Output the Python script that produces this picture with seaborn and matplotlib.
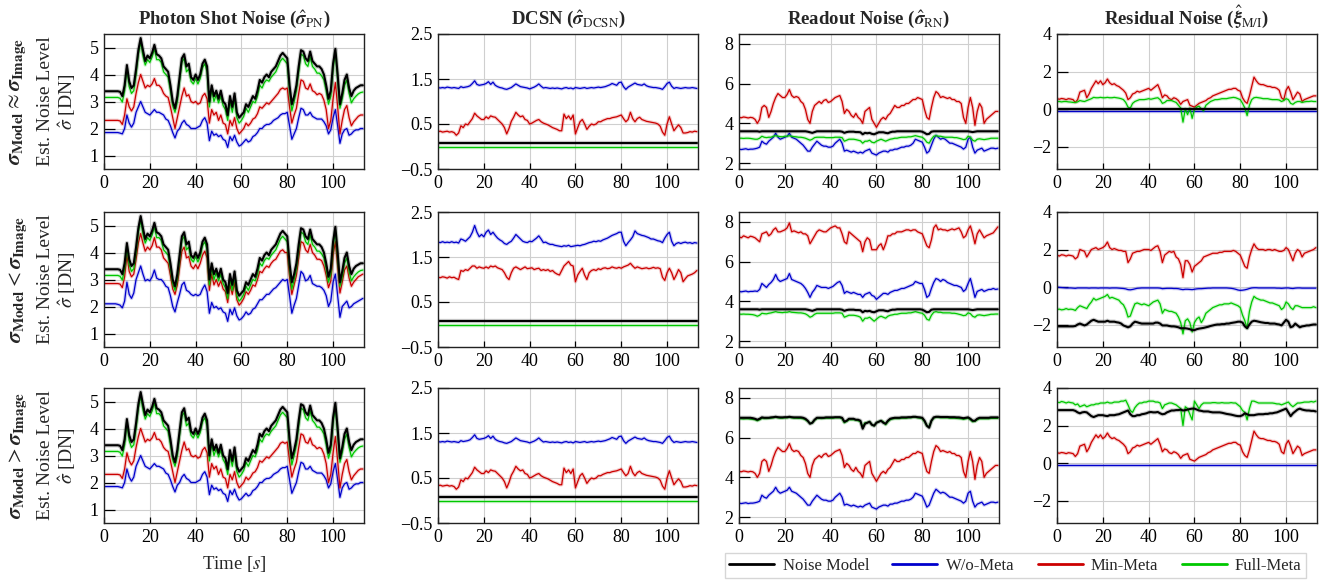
import numpy as np
import seaborn as sns
import matplotlib
matplotlib.use('Agg')
import matplotlib.pyplot as plt
from matplotlib.lines import Line2D

# Time axis [s]
time = np.arange(0, 114)

# ---- Photon shot noise ----
pn_model = [3.38, 3.38, 3.38, 3.38, 3.38, 3.38, 3.38, 3.36, 3.2, 3.6,
            4.35, 3.75, 3.5, 3.6, 4.2, 4.9, 5.35, 4.9, 4.5, 4.7,
            4.6, 4.8, 5.1, 4.75, 4.7, 4.6, 4.3, 4.2, 4.1, 3.6,
            3.0, 2.75, 3.2, 3.9, 4.6, 4.75, 4.3, 4.4, 3.9, 3.8,
            4.0, 3.8, 4.0, 4.4, 4.55, 4.3, 3.0, 3.6, 3.2, 3.4,
            3.1, 3.4, 3.0, 2.9, 2.5, 3.2, 2.8, 3.3, 2.6, 2.4,
            2.5, 2.6, 2.9, 2.8, 3.0, 3.2, 3.1, 3.4, 3.8, 3.7,
            3.9, 4.0, 3.9, 4.1, 4.2, 4.3, 4.5, 4.7, 4.8, 4.7,
            4.6, 3.6, 2.9, 3.2, 3.6, 4.3, 4.9, 4.85, 4.6, 4.5,
            4.85, 4.5, 4.4, 4.3, 4.3, 4.2, 4.0, 3.6, 3.1, 3.4,
            4.4, 4.95, 4.0, 2.9, 3.3, 3.8, 4.0, 3.5, 3.2, 3.4,
            3.5, 3.55, 3.6, 3.6]
pn_full = [3.15, 3.15, 3.15, 3.15, 3.15, 3.15, 3.15, 3.12, 2.98, 3.4,
           4.2, 3.55, 3.3, 3.4, 4.0, 4.75, 5.2, 4.7, 4.35, 4.55,
           4.45, 4.65, 4.95, 4.55, 4.55, 4.45, 4.1, 4.0, 3.9, 3.4,
           2.85, 2.6, 3.0, 3.75, 4.45, 4.6, 4.1, 4.2, 3.75, 3.65,
           3.85, 3.65, 3.85, 4.25, 4.4, 4.1, 2.8, 3.45, 3.0, 3.25,
           2.95, 3.2, 2.85, 2.7, 2.3, 3.0, 2.6, 3.1, 2.4, 2.2,
           2.3, 2.45, 2.75, 2.6, 2.8, 3.0, 2.95, 3.2, 3.6, 3.5,
           3.7, 3.8, 3.75, 3.9, 4.0, 4.1, 4.3, 4.5, 4.6, 4.5,
           4.4, 3.4, 2.65, 3.0, 3.4, 4.1, 4.75, 4.7, 4.4, 4.3,
           4.65, 4.3, 4.2, 4.05, 4.05, 3.95, 3.8, 3.4, 2.9, 3.2,
           4.2, 4.8, 3.8, 2.75, 3.1, 3.6, 3.8, 3.3, 2.95, 3.1,
           3.2, 3.28, 3.33, 3.35]
pn_min_eq = [2.3, 2.3, 2.3, 2.3, 2.3, 2.3, 2.3, 2.28, 2.15, 2.5,
             3.1, 2.8, 2.65, 2.8, 3.3, 3.7, 4.0, 3.75, 3.5, 3.6,
             3.55, 3.65, 3.85, 3.6, 3.6, 3.5, 3.3, 3.2, 3.15, 2.8,
             2.4, 2.0, 2.4, 2.8, 3.2, 3.5, 3.2, 3.25, 3.0, 2.95,
             3.0, 2.9, 2.95, 3.2, 3.3, 3.1, 2.2, 2.7, 2.5, 2.6,
             2.3, 2.5, 2.2, 2.15, 1.8, 2.3, 2.1, 2.4, 2.0, 1.8,
             1.9, 2.0, 2.2, 2.1, 2.2, 2.35, 2.4, 2.55, 2.8, 2.75,
             2.85, 2.95, 2.9, 3.0, 3.1, 3.2, 3.3, 3.45, 3.5, 3.45,
             3.5, 2.8, 2.2, 2.5, 2.75, 3.3, 3.8, 3.75, 3.5, 3.45,
             3.65, 3.4, 3.35, 3.25, 3.3, 3.25, 3.05, 2.7, 2.0, 2.3,
             3.1, 3.7, 2.8, 1.8, 2.3, 2.7, 2.85, 2.4, 2.1, 2.25,
             2.35, 2.45, 2.5, 2.5]
pn_wo_eq = [1.85, 1.85, 1.85, 1.85, 1.85, 1.85, 1.85, 1.83, 1.8, 2.0,
            2.5, 2.2, 2.05, 2.2, 2.6, 2.8, 3.0, 2.8, 2.6, 2.55,
            2.5, 2.6, 2.7, 2.6, 2.6, 2.55, 2.5, 2.35, 2.3, 2.1,
            1.85, 1.65, 1.9, 2.0, 2.2, 2.3, 2.15, 2.1, 2.0, 2.0,
            2.0, 2.05, 2.1, 2.3, 2.4, 2.2, 1.55, 1.9, 1.75, 1.8,
            1.7, 1.75, 1.6, 1.55, 1.3, 1.7, 1.55, 1.75, 1.5, 1.35,
            1.4, 1.5, 1.6, 1.5, 1.55, 1.7, 1.75, 1.85, 2.0, 2.0,
            2.1, 2.15, 2.15, 2.2, 2.3, 2.35, 2.4, 2.5, 2.55, 2.55,
            2.6, 2.1, 1.6, 1.8, 2.0, 2.4, 2.75, 2.7, 2.5, 2.5,
            2.6, 2.45, 2.4, 2.35, 2.35, 2.35, 2.25, 2.1, 1.8, 1.95,
            2.4, 2.7, 2.1, 1.45, 1.8, 1.95, 2.0, 1.75, 1.8, 1.9,
            1.95, 1.95, 2.0, 2.0]
pn_min_lt = [2.85, 2.85, 2.85, 2.85, 2.85, 2.85, 2.85, 2.83, 2.7, 3.1,
             3.9, 3.3, 3.1, 3.2, 3.75, 4.35, 4.7, 4.35, 4.05, 4.2,
             4.1, 4.25, 4.55, 4.2, 4.2, 4.1, 3.8, 3.7, 3.6, 3.15,
             2.65, 2.45, 2.8, 3.45, 4.05, 4.2, 3.8, 3.85, 3.5, 3.4,
             3.55, 3.4, 3.6, 3.9, 4.05, 3.8, 2.6, 3.2, 2.8, 3.0,
             2.75, 2.95, 2.65, 2.55, 2.15, 2.8, 2.45, 2.9, 2.25, 2.05,
             2.15, 2.3, 2.55, 2.45, 2.6, 2.8, 2.75, 3.0, 3.3, 3.25,
             3.4, 3.5, 3.45, 3.6, 3.7, 3.75, 3.9, 4.05, 4.1, 4.0,
             4.0, 3.1, 2.45, 2.8, 3.15, 3.8, 4.4, 4.35, 4.1, 4.0,
             4.3, 4.0, 3.9, 3.75, 3.75, 3.7, 3.5, 3.15, 2.7, 2.95,
             3.9, 4.4, 3.5, 2.5, 2.9, 3.35, 3.5, 3.05, 2.75, 2.9,
             3.0, 3.1, 3.15, 3.2]
pn_wo_lt = [2.1, 2.1, 2.1, 2.1, 2.1, 2.1, 2.08, 2.05, 1.95, 2.2,
            2.9, 2.45, 2.3, 2.5, 3.0, 3.25, 3.5, 3.2, 2.95, 3.0,
            2.95, 3.1, 3.35, 3.05, 3.0, 3.0, 2.9, 2.75, 2.7, 2.4,
            2.0, 1.8, 2.15, 2.45, 2.8, 2.9, 2.6, 2.55, 2.45, 2.4,
            2.45, 2.4, 2.45, 2.65, 2.8, 2.55, 1.75, 2.15, 1.95, 2.0,
            1.9, 1.95, 1.8, 1.75, 1.45, 1.9, 1.7, 1.95, 1.65, 1.5,
            1.55, 1.65, 1.8, 1.7, 1.75, 1.9, 1.95, 2.1, 2.25, 2.25,
            2.35, 2.45, 2.45, 2.55, 2.65, 2.7, 2.8, 2.9, 3.0, 2.95,
            3.0, 2.4, 1.75, 2.05, 2.3, 2.8, 3.3, 3.2, 2.95, 3.0,
            3.15, 2.85, 2.8, 2.75, 2.75, 2.7, 2.6, 2.4, 2.0, 2.2,
            2.9, 3.2, 2.4, 1.6, 2.0, 2.1, 2.2, 1.95, 2.0, 2.1,
            2.15, 2.2, 2.25, 2.3]

# ---- DCSN ----
dcsn_model = 0.07
dcsn_full = 0.0
dcsn_wo_eq = [1.31, 1.3, 1.31, 1.3, 1.32, 1.31, 1.3, 1.31, 1.3, 1.29,
              1.33, 1.31, 1.32, 1.33, 1.35, 1.4, 1.46, 1.38, 1.36, 1.37,
              1.38, 1.4, 1.44, 1.38, 1.43, 1.36, 1.33, 1.31, 1.3, 1.28,
              1.27, 1.29, 1.31, 1.35, 1.39, 1.36, 1.33, 1.32, 1.31, 1.3,
              1.28, 1.3, 1.32, 1.35, 1.39, 1.34, 1.3, 1.31, 1.3, 1.29,
              1.3, 1.29, 1.3, 1.29, 1.28, 1.3, 1.31, 1.29, 1.3, 1.28,
              1.31, 1.3, 1.29, 1.3, 1.31, 1.29, 1.3, 1.31, 1.3, 1.31,
              1.32, 1.31, 1.32, 1.33, 1.35, 1.37, 1.4, 1.38, 1.36, 1.42,
              1.43, 1.33, 1.27, 1.32, 1.35, 1.38, 1.41, 1.38, 1.37, 1.36,
              1.39, 1.35, 1.33, 1.32, 1.31, 1.31, 1.3, 1.29, 1.27, 1.33,
              1.4, 1.43, 1.34, 1.29, 1.31, 1.3, 1.29, 1.3, 1.31, 1.3,
              1.3, 1.31, 1.3, 1.29]
dcsn_min_eq = [0.33, 0.34, 0.32, 0.33, 0.34, 0.32, 0.33, 0.31, 0.25, 0.3,
               0.46, 0.42, 0.5, 0.48, 0.55, 0.62, 0.74, 0.68, 0.64, 0.6,
               0.6, 0.66, 0.62, 0.68, 0.66, 0.65, 0.6, 0.55, 0.5, 0.42,
               0.28, 0.4, 0.56, 0.65, 0.76, 0.7, 0.66, 0.68, 0.6, 0.58,
               0.5, 0.52, 0.55, 0.58, 0.6, 0.55, 0.52, 0.5, 0.48, 0.45,
               0.42, 0.4, 0.38, 0.35, 0.35, 0.72, 0.62, 0.68, 0.6, 0.7,
               0.28, 0.42, 0.55, 0.6, 0.5, 0.38, 0.45, 0.5, 0.48, 0.5,
               0.55, 0.55, 0.58, 0.6, 0.62, 0.62, 0.64, 0.65, 0.66, 0.68,
               0.7, 0.62, 0.55, 0.6, 0.76, 0.62, 0.55, 0.62, 0.65, 0.6,
               0.58, 0.56, 0.55, 0.54, 0.53, 0.52, 0.5, 0.45, 0.32, 0.25,
               0.5, 0.66, 0.5, 0.35, 0.42, 0.48, 0.42, 0.3, 0.3, 0.31,
               0.33, 0.32, 0.34, 0.33]
dcsn_wo_lt = [1.83, 1.82, 1.84, 1.82, 1.83, 1.82, 1.84, 1.82, 1.83, 1.81,
              1.9, 1.88, 1.85, 1.9, 1.95, 2.05, 2.2, 2.05, 1.95, 2.0,
              1.95, 2.05, 2.1, 2.0, 2.05, 1.98, 1.92, 1.88, 1.85, 1.8,
              1.78, 1.82, 1.85, 1.92, 2.0, 1.95, 1.9, 1.85, 1.83, 1.82,
              1.85, 1.84, 1.88, 1.92, 1.97, 1.9, 1.82, 1.83, 1.8, 1.78,
              1.78, 1.76, 1.75, 1.74, 1.73, 1.75, 1.74, 1.76, 1.73, 1.74,
              1.75, 1.76, 1.75, 1.77, 1.78, 1.8, 1.82, 1.83, 1.85, 1.84,
              1.86, 1.85, 1.88, 1.9, 1.92, 1.95, 1.98, 2.0, 2.02, 2.05,
              2.05, 1.85, 1.75, 1.82, 1.88, 1.95, 2.08, 2.02, 2.0, 1.98,
              1.97, 1.95, 1.93, 1.9, 1.9, 1.88, 1.86, 1.85, 1.82, 1.92,
              2.0, 2.05, 1.85, 1.75, 1.8, 1.82, 1.8, 1.82, 1.83, 1.81,
              1.82, 1.8, 1.82, 1.81]
dcsn_min_lt = [1.05, 1.04, 1.06, 1.05, 1.03, 1.06, 1.04, 1.05, 1.02, 1.0,
               1.2, 1.18, 1.22, 1.2, 1.25, 1.3, 1.3, 1.25, 1.28, 1.26,
               1.25, 1.28, 1.25, 1.3, 1.28, 1.3, 1.26, 1.24, 1.22, 1.15,
               1.05, 1.0, 1.15, 1.25, 1.28, 1.25, 1.22, 1.25, 1.28, 1.24,
               1.25, 1.26, 1.22, 1.24, 1.25, 1.2, 1.22, 1.2, 1.22, 1.18,
               1.2, 1.15, 1.12, 1.1, 1.2, 1.3, 1.35, 1.4, 1.32, 1.3,
               0.95, 1.1, 1.18, 1.25, 1.1, 1.0, 1.15, 1.2, 1.22, 1.2,
               1.24, 1.22, 1.25, 1.26, 1.24, 1.25, 1.28, 1.26, 1.25, 1.27,
               1.25, 1.28, 1.3, 1.32, 1.36, 1.3, 1.25, 1.28, 1.26, 1.24,
               1.25, 1.26, 1.24, 1.25, 1.27, 1.25, 1.26, 1.24, 1.05, 0.98,
               1.15, 1.25, 1.15, 1.0, 1.1, 1.22, 1.15, 0.95, 1.02, 1.08,
               1.1, 1.12, 1.15, 1.2]

# ---- Readout noise ----
rn_model_low = [3.6, 3.6, 3.6, 3.6, 3.6, 3.6, 3.6, 3.6, 3.6, 3.58,
                3.6, 3.6, 3.6, 3.6, 3.6, 3.6, 3.6, 3.6, 3.6, 3.6,
                3.6, 3.6, 3.6, 3.6, 3.6, 3.6, 3.6, 3.6, 3.6, 3.6,
                3.58, 3.55, 3.52, 3.56, 3.6, 3.6, 3.6, 3.6, 3.6, 3.6,
                3.6, 3.6, 3.6, 3.6, 3.6, 3.58, 3.52, 3.56, 3.58, 3.58,
                3.58, 3.56, 3.56, 3.55, 3.45, 3.52, 3.5, 3.52, 3.47, 3.45,
                3.5, 3.55, 3.55, 3.55, 3.52, 3.5, 3.55, 3.58, 3.58, 3.6,
                3.6, 3.6, 3.6, 3.6, 3.6, 3.6, 3.6, 3.6, 3.6, 3.6,
                3.58, 3.52, 3.45, 3.47, 3.58, 3.6, 3.6, 3.6, 3.6, 3.6,
                3.6, 3.6, 3.6, 3.6, 3.6, 3.6, 3.6, 3.6, 3.6, 3.6,
                3.6, 3.58, 3.56, 3.58, 3.6, 3.6, 3.6, 3.6, 3.6, 3.6,
                3.6, 3.6, 3.6, 3.6]
rn_full_eq = [3.25, 3.25, 3.24, 3.25, 3.25, 3.24, 3.22, 3.2, 3.2, 3.25,
              3.35, 3.3, 3.28, 3.3, 3.3, 3.35, 3.38, 3.35, 3.33, 3.32,
              3.35, 3.35, 3.38, 3.35, 3.33, 3.32, 3.3, 3.3, 3.28, 3.25,
              3.2, 3.15, 3.2, 3.28, 3.3, 3.3, 3.3, 3.3, 3.28, 3.28,
              3.28, 3.28, 3.3, 3.3, 3.3, 3.28, 3.1, 3.15, 3.2, 3.2,
              3.2, 3.18, 3.15, 3.12, 3.0, 3.1, 3.1, 3.15, 3.05, 3.02,
              3.1, 3.15, 3.2, 3.15, 3.1, 3.15, 3.2, 3.22, 3.25, 3.25,
              3.28, 3.3, 3.3, 3.3, 3.32, 3.32, 3.35, 3.38, 3.35, 3.32,
              3.3, 3.2, 3.05, 3.0, 3.2, 3.35, 3.38, 3.35, 3.35, 3.32,
              3.3, 3.3, 3.3, 3.3, 3.28, 3.28, 3.25, 3.22, 3.18, 3.2,
              3.35, 3.3, 3.15, 3.1, 3.2, 3.22, 3.2, 3.18, 3.2, 3.22,
              3.25, 3.25, 3.25, 3.25]
rn_min_eq = [4.3, 4.28, 4.32, 4.3, 4.27, 4.3, 4.28, 4.2, 4.0, 4.2,
             4.8, 4.9, 4.8, 4.3, 4.6, 5.0, 5.3, 5.5, 5.4, 5.3,
             5.3, 5.45, 5.7, 5.4, 5.3, 5.35, 5.3, 5.1, 5.0, 4.7,
             4.2, 4.0, 4.6, 4.9, 5.0, 5.1, 5.0, 5.15, 5.2, 5.05,
             5.1, 5.2, 5.3, 5.35, 5.4, 5.1, 4.5, 4.7, 4.6, 4.4,
             4.3, 4.5, 4.3, 4.2, 4.0, 4.6, 4.7, 4.8, 4.2, 4.0,
             3.8, 4.0, 4.2, 4.3, 4.2, 4.4, 4.5, 4.7, 4.9, 4.8,
             4.8, 4.9, 4.9, 5.0, 5.0, 5.1, 5.2, 5.2, 5.3, 5.25,
             5.2, 4.7, 4.3, 4.2, 4.8, 5.3, 5.6, 5.5, 5.3, 5.35,
             5.3, 5.25, 5.3, 5.2, 5.2, 5.1, 5.1, 5.0, 4.3, 4.0,
             4.8, 5.3, 4.8, 3.9, 4.6, 5.0, 4.8, 4.0, 4.2, 4.3,
             4.4, 4.5, 4.6, 4.6]
rn_wo_eq = [2.7, 2.68, 2.7, 2.72, 2.68, 2.7, 2.7, 2.72, 2.75, 2.8,
            3.1, 3.0, 2.95, 3.1, 3.2, 3.3, 3.5, 3.3, 3.2, 3.25,
            3.3, 3.35, 3.5, 3.3, 3.25, 3.2, 3.1, 3.0, 2.9, 2.75,
            2.6, 2.6, 2.8, 2.95, 3.1, 3.0, 2.9, 2.85, 2.85, 2.8,
            2.8, 2.85, 3.0, 3.1, 3.2, 3.0, 2.6, 2.65, 2.6, 2.55,
            2.6, 2.55, 2.5, 2.55, 2.5, 2.6, 2.65, 2.7, 2.5, 2.45,
            2.4, 2.5, 2.55, 2.6, 2.6, 2.55, 2.65, 2.65, 2.7, 2.7,
            2.75, 2.8, 2.8, 2.85, 2.85, 2.9, 3.0, 3.2, 3.15, 3.1,
            3.05, 2.8, 2.5, 2.6, 2.9, 3.2, 3.4, 3.3, 3.2, 3.25,
            3.2, 3.1, 3.0, 3.0, 2.95, 2.9, 2.85, 2.8, 2.7, 2.8,
            3.2, 3.3, 2.8, 2.5, 2.65, 2.7, 2.75, 2.6, 2.65, 2.7,
            2.75, 2.75, 2.72, 2.75]
rn_full_lt = [3.36, 3.35, 3.36, 3.35, 3.35, 3.34, 3.33, 3.3, 3.25, 3.3,
              3.4, 3.38, 3.37, 3.4, 3.42, 3.45, 3.48, 3.45, 3.44, 3.43,
              3.45, 3.45, 3.48, 3.45, 3.44, 3.43, 3.42, 3.42, 3.4, 3.37,
              3.3, 3.2, 3.25, 3.35, 3.4, 3.4, 3.4, 3.4, 3.4, 3.4,
              3.4, 3.4, 3.42, 3.42, 3.42, 3.4, 3.2, 3.25, 3.3, 3.3,
              3.3, 3.28, 3.25, 3.2, 3.0, 3.15, 3.15, 3.2, 3.1, 3.0,
              3.1, 3.2, 3.25, 3.2, 3.15, 3.25, 3.3, 3.32, 3.35, 3.35,
              3.38, 3.4, 3.4, 3.4, 3.42, 3.42, 3.45, 3.48, 3.45, 3.42,
              3.4, 3.3, 3.1, 3.05, 3.3, 3.45, 3.48, 3.45, 3.45, 3.42,
              3.42, 3.42, 3.42, 3.4, 3.4, 3.38, 3.35, 3.32, 3.28, 3.3,
              3.42, 3.38, 3.25, 3.2, 3.3, 3.32, 3.3, 3.28, 3.3, 3.32,
              3.35, 3.35, 3.36, 3.36]
rn_min_lt = [7.25, 7.2, 7.3, 7.25, 7.2, 7.28, 7.25, 7.2, 7.1, 7.0,
             7.4, 7.45, 7.5, 7.3, 7.4, 7.6, 7.7, 7.5, 7.5, 7.55,
             7.6, 7.7, 7.95, 7.5, 7.55, 7.5, 7.45, 7.5, 7.4, 7.4,
             7.3, 6.9, 7.1, 7.3, 7.5, 7.6, 7.55, 7.5, 7.5, 7.6,
             7.7, 7.75, 7.8, 7.7, 7.7, 7.4, 7.0, 6.9, 7.5, 7.4,
             7.3, 7.2, 7.1, 7.0, 6.5, 7.0, 7.2, 7.1, 6.6, 6.6,
             6.6, 6.8, 6.9, 6.6, 6.9, 7.3, 7.3, 7.4, 7.4, 7.5,
             7.5, 7.5, 7.55, 7.6, 7.6, 7.55, 7.6, 7.6, 7.5, 7.45,
             7.4, 7.1, 6.8, 6.7, 7.1, 7.7, 7.85, 7.6, 7.65, 7.6,
             7.6, 7.55, 7.6, 7.65, 7.6, 7.65, 7.7, 7.5, 7.2, 7.3,
             7.6, 7.8, 7.4, 6.9, 7.4, 7.6, 7.4, 7.2, 7.3, 7.35,
             7.4, 7.45, 7.6, 7.75]
rn_wo_lt = [4.5, 4.48, 4.5, 4.52, 4.48, 4.5, 4.5, 4.52, 4.5, 4.6,
            4.9, 4.8, 4.7, 4.85, 4.95, 5.1, 5.35, 5.1, 5.0, 5.05,
            5.1, 5.15, 5.4, 5.1, 5.05, 5.0, 4.95, 4.9, 4.8, 4.65,
            4.45, 4.2, 4.45, 4.6, 4.8, 4.75, 4.7, 4.7, 4.7, 4.65,
            4.7, 4.75, 4.85, 4.95, 5.0, 4.8, 4.4, 4.5, 4.45, 4.4,
            4.45, 4.4, 4.35, 4.35, 4.2, 4.35, 4.4, 4.45, 4.3, 4.25,
            4.1, 4.2, 4.3, 4.4, 4.4, 4.35, 4.45, 4.5, 4.55, 4.55,
            4.6, 4.65, 4.65, 4.7, 4.75, 4.8, 4.85, 5.0, 4.95, 4.9,
            4.9, 4.6, 4.2, 4.3, 4.65, 4.95, 5.15, 5.1, 5.0, 5.1,
            5.05, 4.95, 4.9, 4.85, 4.8, 4.8, 4.75, 4.7, 4.5, 4.6,
            4.9, 5.15, 4.7, 4.2, 4.5, 4.55, 4.6, 4.5, 4.55, 4.6,
            4.6, 4.65, 4.6, 4.62]
rn_model_high = [7.0, 7.0, 7.0, 7.0, 7.0, 7.0, 6.98, 6.95, 6.9, 6.95,
                 7.02, 7.0, 7.0, 7.0, 7.02, 7.03, 7.05, 7.03, 7.02, 7.02,
                 7.03, 7.03, 7.05, 7.03, 7.02, 7.02, 7.02, 7.02, 7.0, 6.95,
                 6.85, 6.7, 6.75, 6.9, 7.0, 7.0, 7.0, 7.0, 7.02, 7.02,
                 7.02, 7.02, 7.03, 7.03, 7.03, 7.0, 6.8, 6.85, 6.95, 6.95,
                 6.95, 6.9, 6.9, 6.85, 6.45, 6.7, 6.75, 6.8, 6.65, 6.6,
                 6.75, 6.8, 6.85, 6.75, 6.7, 6.85, 6.95, 6.98, 7.0, 7.0,
                 7.0, 7.02, 7.02, 7.02, 7.03, 7.03, 7.05, 7.05, 7.03, 7.02,
                 7.0, 6.85, 6.6, 6.5, 6.85, 7.02, 7.05, 7.05, 7.04, 7.04,
                 7.04, 7.04, 7.03, 7.03, 7.03, 7.02, 7.02, 7.0, 6.98, 7.0,
                 7.02, 6.95, 6.85, 6.85, 6.95, 7.0, 7.0, 7.0, 7.0, 7.0,
                 7.02, 7.02, 7.02, 7.02]
rn_full_gt = [6.95, 6.95, 6.94, 6.95, 6.95, 6.93, 6.92, 6.9, 6.85, 6.9,
              6.97, 6.96, 6.96, 6.97, 6.98, 7.0, 7.02, 7.0, 6.98, 6.98,
              7.0, 7.0, 7.02, 7.0, 6.98, 6.98, 6.97, 6.97, 6.95, 6.9,
              6.82, 6.72, 6.75, 6.88, 6.96, 6.97, 6.96, 6.97, 6.98, 6.98,
              6.98, 6.98, 7.0, 7.0, 7.0, 6.95, 6.75, 6.82, 6.9, 6.9,
              6.9, 6.88, 6.85, 6.8, 6.55, 6.75, 6.75, 6.8, 6.65, 6.6,
              6.75, 6.8, 6.85, 6.8, 6.65, 6.8, 6.9, 6.94, 6.96, 6.96,
              6.96, 6.98, 6.98, 6.98, 7.0, 7.0, 7.02, 7.02, 7.0, 6.98,
              6.95, 6.8, 6.6, 6.55, 6.85, 6.98, 7.02, 7.02, 7.0, 7.0,
              7.0, 7.0, 6.98, 6.98, 6.98, 6.97, 6.96, 6.95, 6.92, 6.95,
              6.98, 6.9, 6.8, 6.82, 6.9, 6.95, 6.95, 6.95, 6.95, 6.95,
              6.97, 6.97, 6.97, 6.97]

# ---- Residual noise ----
res_model_eq = 0.0
res_wo = -0.1
res_min_eq = [0.55, 0.52, 0.56, 0.54, 0.5, 0.55, 0.53, 0.5, 0.35, 0.5,
              0.9, 0.95, 1.0, 0.6, 0.8, 1.1, 1.3, 1.5, 1.35, 1.5,
              1.3, 1.4, 1.6, 1.4, 1.3, 1.35, 1.25, 1.2, 1.1, 1.0,
              0.85, 0.5, 0.6, 0.8, 0.85, 0.95, 0.9, 0.95, 1.0, 1.05,
              1.1, 1.0, 1.1, 1.2, 1.3, 1.0, 0.6, 0.75, 0.7, 0.55,
              0.5, 0.6, 0.55, 0.45, 0.25, 0.4, 0.45, 0.5, 0.2, 0.15,
              0.1, 0.2, 0.3, 0.35, 0.4, 0.45, 0.55, 0.6, 0.7, 0.75,
              0.8, 0.85, 0.9, 0.95, 1.0, 1.05, 1.05, 1.1, 1.1, 1.0,
              0.95, 0.6, 0.4, 0.3, 0.7, 1.2, 1.7, 1.5, 1.35, 1.3,
              1.3, 1.25, 1.2, 1.2, 1.15, 1.15, 1.1, 1.0, 0.6, 0.5,
              1.0, 1.2, 0.9, 0.5, 0.7, 0.9, 0.8, 0.4, 0.5, 0.55,
              0.6, 0.65, 0.7, 0.7]
res_full_eq = [0.4, 0.4, 0.38, 0.4, 0.4, 0.38, 0.37, 0.35, 0.35, 0.38,
               0.45, 0.42, 0.4, 0.45, 0.5, 0.55, 0.62, 0.6, 0.6, 0.62,
               0.6, 0.6, 0.62, 0.6, 0.6, 0.62, 0.6, 0.58, 0.55, 0.5,
               0.35, 0.1, 0.05, 0.3, 0.4, 0.45, 0.5, 0.5, 0.5, 0.52,
               0.55, 0.52, 0.55, 0.58, 0.6, 0.5, 0.3, 0.35, 0.45, 0.45,
               0.45, 0.4, 0.35, 0.2, 0.05, -0.7, 0.0, -0.3, 0.05, -0.5,
               0.0, 0.1, 0.15, 0.0, -0.1, 0.2, 0.3, 0.4, 0.45, 0.5,
               0.5, 0.52, 0.55, 0.55, 0.55, 0.58, 0.6, 0.62, 0.6, 0.55,
               0.5, 0.3, 0.05, -0.35, 0.2, 0.5, 0.6, 0.62, 0.6, 0.58,
               0.55, 0.55, 0.55, 0.52, 0.5, 0.5, 0.5, 0.48, 0.4, 0.45,
               0.55, 0.5, 0.3, 0.25, 0.35, 0.4, 0.4, 0.35, 0.38, 0.4,
               0.4, 0.42, 0.4, 0.4]
res_min_lt = [1.7, 1.65, 1.72, 1.7, 1.65, 1.7, 1.68, 1.65, 1.5, 1.6,
              2.0, 1.95, 1.9, 1.6, 1.8, 2.0, 2.05, 2.1, 2.0, 2.05,
              2.1, 2.2, 2.4, 2.1, 2.0, 2.05, 2.0, 1.95, 1.95, 1.9,
              1.9, 1.3, 1.5, 1.8, 1.85, 1.9, 1.9, 1.95, 2.0, 2.0,
              2.0, 1.95, 2.05, 2.15, 2.2, 1.9, 1.3, 1.7, 1.8, 1.9,
              1.85, 1.9, 1.6, 1.5, 1.2, 0.5, 1.4, 1.4, 1.2, 0.8,
              1.1, 1.2, 1.3, 1.4, 1.6, 1.65, 1.7, 1.75, 1.8, 1.8,
              1.8, 1.85, 1.85, 1.9, 1.9, 1.9, 1.9, 1.95, 1.9, 1.8,
              1.7, 1.4, 1.1, 1.0, 1.6, 2.0, 2.3, 2.1, 2.0, 2.0,
              2.0, 1.95, 2.0, 2.0, 1.95, 2.0, 1.95, 1.9, 1.9, 1.95,
              2.1, 2.0, 1.7, 1.4, 1.8, 2.0, 1.9, 1.6, 1.8, 1.85,
              1.9, 1.95, 2.0, 2.1]
res_wo_lt = [0.0, -0.02, -0.03, -0.04, -0.05, -0.05, -0.05, -0.06, -0.07, -0.05,
             -0.05, -0.05, -0.05, -0.05, -0.06, -0.05, -0.05, -0.05, -0.06, -0.05,
             -0.05, -0.05, -0.05, -0.06, -0.05, -0.05, -0.05, -0.06, -0.07, -0.08,
             -0.1, -0.14, -0.15, -0.13, -0.1, -0.07, -0.06, -0.05, -0.05, -0.05,
             -0.05, -0.05, -0.05, -0.05, -0.05, -0.06, -0.09, -0.08, -0.07, -0.07,
             -0.07, -0.08, -0.08, -0.09, -0.12, -0.14, -0.12, -0.12, -0.13, -0.14,
             -0.12, -0.1, -0.09, -0.09, -0.08, -0.07, -0.06, -0.06, -0.05, -0.05,
             -0.05, -0.05, -0.05, -0.05, -0.05, -0.06, -0.07, -0.09, -0.12, -0.16,
             -0.18, -0.17, -0.15, -0.12, -0.08, -0.05, -0.04, -0.04, -0.05, -0.05,
             -0.05, -0.05, -0.05, -0.05, -0.05, -0.05, -0.06, -0.06, -0.07, -0.06,
             -0.05, -0.05, -0.07, -0.08, -0.06, -0.05, -0.05, -0.06, -0.06, -0.06,
             -0.06, -0.06, -0.06, -0.06]
res_full_lt = [-1.2, -1.18, -1.22, -1.2, -1.15, -1.2, -1.18, -1.2, -1.25, -1.1,
               -1.0, -1.05, -1.1, -1.15, -0.95, -0.8, -0.6, -0.7, -0.65, -0.6,
               -0.55, -0.5, -0.4, -0.6, -0.55, -0.6, -0.65, -0.7, -0.85, -0.95,
               -1.2, -1.6, -1.55, -1.2, -0.9, -0.85, -0.9, -0.95, -0.9, -0.95,
               -1.0, -0.9, -0.8, -0.75, -0.7, -0.9, -1.4, -1.2, -1.25, -1.3,
               -1.3, -1.35, -1.4, -1.6, -1.9, -2.5, -1.8, -1.7, -1.9, -2.4,
               -1.9, -1.7, -1.6, -1.9, -1.7, -1.4, -1.3, -1.2, -1.1, -1.05,
               -1.0, -0.95, -0.95, -0.9, -0.9, -0.9, -0.85, -0.9, -0.95, -1.0,
               -1.1, -1.5, -1.8, -2.2, -1.3, -0.8, -0.5, -0.6, -0.65, -0.7,
               -0.7, -0.75, -0.8, -0.85, -0.85, -0.9, -0.95, -1.0, -1.2, -1.1,
               -0.8, -0.9, -1.1, -1.2, -1.0, -1.0, -1.05, -1.1, -1.1, -1.1,
               -1.1, -1.1, -1.05, -1.1]
res_model_lt = [-2.1, -2.1, -2.1, -2.1, -2.1, -2.1, -2.1, -2.1, -2.08, -2.0,
                -1.95, -2.0, -2.05, -2.0, -1.9, -1.8, -1.75, -1.8, -1.85, -1.85,
                -1.85, -1.85, -1.8, -1.85, -1.85, -1.85, -1.88, -1.9, -1.95, -2.05,
                -2.1, -2.15, -2.1, -1.95, -1.85, -1.88, -1.92, -1.95, -1.95, -1.95,
                -1.95, -1.95, -1.95, -1.9, -1.9, -1.95, -2.05, -2.05, -2.05, -2.08,
                -2.1, -2.1, -2.12, -2.15, -2.2, -2.2, -2.2, -2.22, -2.25, -2.3,
                -2.3, -2.25, -2.22, -2.2, -2.18, -2.15, -2.12, -2.08, -2.05, -2.02,
                -2.0, -2.0, -1.98, -1.98, -1.95, -1.95, -1.92, -1.9, -1.88, -1.85,
                -1.85, -1.9, -2.1, -2.2, -2.0, -1.85, -1.8, -1.82, -1.85, -1.88,
                -1.9, -1.92, -1.92, -1.95, -1.95, -1.95, -1.98, -2.0, -2.05, -1.9,
                -1.75, -1.85, -2.15, -2.1, -1.95, -2.05, -2.15, -2.1, -2.08, -2.05,
                -2.05, -2.02, -2.0, -2.0]
res_full_gt = [3.25, 3.22, 3.28, 3.25, 3.2, 3.25, 3.22, 3.2, 3.1, 3.15,
               3.0, 3.05, 3.1, 3.0, 3.05, 3.1, 3.1, 3.15, 3.15, 3.2,
               3.2, 3.2, 3.25, 3.2, 3.2, 3.25, 3.25, 3.25, 3.3, 3.3,
               3.35, 3.1, 2.8, 2.7, 2.95, 3.1, 3.2, 3.2, 3.25, 3.25,
               3.3, 3.3, 3.3, 3.25, 3.25, 3.2, 2.9, 3.1, 3.15, 3.2,
               3.2, 3.15, 3.1, 3.0, 2.9, 2.0, 3.0, 2.9, 2.6, 2.3,
               3.3, 3.1, 2.9, 3.1, 3.2, 3.2, 3.2, 3.2, 3.22, 3.22,
               3.2, 3.2, 3.22, 3.2, 3.2, 3.2, 3.22, 3.2, 3.2, 3.1,
               3.0, 2.8, 2.7, 2.3, 2.9, 3.3, 3.3, 3.25, 3.2, 3.2,
               3.2, 3.2, 3.2, 3.2, 3.2, 3.18, 3.15, 3.15, 3.1, 3.15,
               3.2, 3.25, 3.1, 3.0, 3.1, 3.2, 3.2, 3.22, 3.25, 3.25,
               3.25, 3.28, 3.25, 3.3]
res_model_gt = [2.82, 2.82, 2.82, 2.82, 2.82, 2.82, 2.82, 2.82, 2.78, 2.7,
                2.65, 2.7, 2.72, 2.7, 2.6, 2.5, 2.45, 2.5, 2.55, 2.55,
                2.55, 2.52, 2.5, 2.55, 2.55, 2.55, 2.58, 2.6, 2.65, 2.7,
                2.75, 2.8, 2.6, 2.5, 2.5, 2.55, 2.55, 2.6, 2.62, 2.65,
                2.7, 2.72, 2.7, 2.7, 2.72, 2.65, 2.6, 2.62, 2.7, 2.75,
                2.8, 2.8, 2.82, 2.82, 2.85, 2.8, 2.82, 2.85, 2.88, 2.9,
                2.9, 2.85, 2.8, 2.78, 2.75, 2.75, 2.75, 2.72, 2.7, 2.7,
                2.7, 2.7, 2.68, 2.65, 2.62, 2.6, 2.58, 2.55, 2.52, 2.5,
                2.5, 2.55, 2.65, 2.6, 2.55, 2.55, 2.55, 2.58, 2.6, 2.6,
                2.6, 2.62, 2.62, 2.65, 2.65, 2.68, 2.7, 2.75, 2.8, 2.85,
                2.9, 2.7, 2.5, 2.65, 2.75, 2.85, 2.9, 2.85, 2.82, 2.8,
                2.8, 2.78, 2.78, 2.75]

colors = {"Noise Model": "#000000", "W/o-Meta": "#0000cc",
          "Min-Meta": "#cc0000", "Full-Meta": "#00c800"}

# panels[row][col] = dict of method -> series (scalar = constant)
panels = [
    [dict(Nm=pn_model, Wo=pn_wo_eq, Mi=pn_min_eq, Fu=pn_full),
     dict(Nm=dcsn_model, Wo=dcsn_wo_eq, Mi=dcsn_min_eq, Fu=dcsn_full),
     dict(Nm=rn_model_low, Wo=rn_wo_eq, Mi=rn_min_eq, Fu=rn_full_eq),
     dict(Nm=res_model_eq, Wo=res_wo, Mi=res_min_eq, Fu=res_full_eq)],
    [dict(Nm=pn_model, Wo=pn_wo_lt, Mi=pn_min_lt, Fu=pn_full),
     dict(Nm=dcsn_model, Wo=dcsn_wo_lt, Mi=dcsn_min_lt, Fu=dcsn_full),
     dict(Nm=rn_model_low, Wo=rn_wo_lt, Mi=rn_min_lt, Fu=rn_full_lt),
     dict(Nm=res_model_lt, Wo=res_wo_lt, Mi=res_min_lt, Fu=res_full_lt)],
    [dict(Nm=pn_model, Wo=pn_wo_eq, Mi=pn_min_eq, Fu=pn_full),
     dict(Nm=dcsn_model, Wo=dcsn_wo_eq, Mi=dcsn_min_eq, Fu=dcsn_full),
     dict(Nm=rn_model_high, Wo=rn_wo_eq, Mi=rn_min_eq, Fu=rn_full_gt),
     dict(Nm=res_model_gt, Wo=res_wo, Mi=res_min_eq, Fu=res_full_gt)],
]
keys = {"Nm": "Noise Model", "Wo": "W/o-Meta", "Mi": "Min-Meta", "Fu": "Full-Meta"}

titles = [r"Photon Shot Noise ($\hat{\boldsymbol{\sigma}}_{\mathrm{PN}}$)",
          r"DCSN ($\hat{\boldsymbol{\sigma}}_{\mathrm{DCSN}}$)",
          r"Readout Noise ($\hat{\boldsymbol{\sigma}}_{\mathrm{RN}}$)",
          r"Residual Noise ($\hat{\boldsymbol{\xi}}_{\mathrm{M/I}}$)"]
row_labels = [r"$\boldsymbol{\sigma}_{\mathbf{Model}} \approx \boldsymbol{\sigma}_{\mathbf{Image}}$",
              r"$\boldsymbol{\sigma}_{\mathbf{Model}} < \boldsymbol{\sigma}_{\mathbf{Image}}$",
              r"$\boldsymbol{\sigma}_{\mathbf{Model}} > \boldsymbol{\sigma}_{\mathbf{Image}}$"]
ylims = [(0.5, 5.5), (-0.5, 2.5), (1.7, 8.5), (-3.2, 4.0)]
yticks = [[1, 2, 3, 4, 5], [-0.5, 0.5, 1.5, 2.5], [2, 4, 6, 8], [-2, 0, 2, 4]]
yfmt = ["{:g}", "{:.1f}", "{:g}", "{:g}"]

sns.set_theme(style="ticks")
plt.rcParams['font.family'] = ['Liberation Serif', 'DejaVu Serif']
plt.rcParams['mathtext.fontset'] = 'stix'
plt.rcParams['axes.unicode_minus'] = True

W, H = 1325, 587
fig = plt.figure(figsize=(W / 100, H / 100), dpi=100)
col_left = [104, 438, 739, 1057]
row_top = [34, 212, 388]
aw, ah = 260, 135

for r in range(3):
    for c in range(4):
        ax = fig.add_axes([col_left[c] / W, 1 - (row_top[r] + ah) / H, aw / W, ah / H])
        spec = panels[r][c]
        for k in ["Wo", "Mi", "Fu", "Nm"]:
            vals = spec[k]
            y = np.full(len(time), vals, dtype=float) if np.isscalar(vals) else np.asarray(vals)
            col = colors[keys[k]]
            lw = 1.5 if k == "Nm" else 0.9
            sns.lineplot(x=time, y=y, ax=ax, color=col, lw=lw + 1.6, alpha=0.2, legend=False)
            sns.lineplot(x=time, y=y, ax=ax, color=col, lw=lw, legend=False)
        ax.set_xlim(0, 113.5)
        ax.set_ylim(*ylims[c])
        ax.set_xticks([0, 20, 40, 60, 80, 100])
        ax.set_yticks(yticks[c])
        ax.set_yticklabels([yfmt[c].format(v).replace("-", "\u2212") for v in yticks[c]])
        ax.grid(True, color="#cfcfcf", lw=0.8)
        ax.set_axisbelow(True)
        ax.tick_params(axis='both', direction='in', labelsize=13, colors='black', pad=4)
        ax.tick_params(axis='y', length=8, width=0.9)
        ax.tick_params(axis='x', length=4, width=0.9)
        for s in ax.spines.values():
            s.set_color('#222222')
            s.set_linewidth(1.0)
        ax.set_xlabel("")
        ax.set_ylabel("")
        if r == 0:
            ax.set_title(titles[c], fontsize=13.5, fontweight='bold', pad=7)
        if c == 0:
            ax.set_ylabel("Est. Noise Level\n" + r"$\hat{\sigma}$ [DN]", fontsize=14,
                          linespacing=1.1)
            ax.yaxis.set_label_coords(-0.1, 0.5)
            fig.text(18 / W, 1 - (row_top[r] + ah / 2) / H, row_labels[r], rotation=90,
                     ha='center', va='center', fontsize=15.5)
        if r == 2 and c == 0:
            ax.set_xlabel(r"Time [$s$]", fontsize=13.5, labelpad=6)

handles = [Line2D([0], [0], color=colors[n], lw=2) for n in colors]
fig.legend(handles, list(colors), loc='lower right', ncol=4,
           bbox_to_anchor=(1314 / W, 1 - 586 / H), frameon=True, fancybox=False,
           edgecolor='#cccccc', fontsize=12, handlelength=2.7, columnspacing=1.4,
           borderpad=0.25, handletextpad=0.5)

fig.savefig("out.png", dpi=100)
